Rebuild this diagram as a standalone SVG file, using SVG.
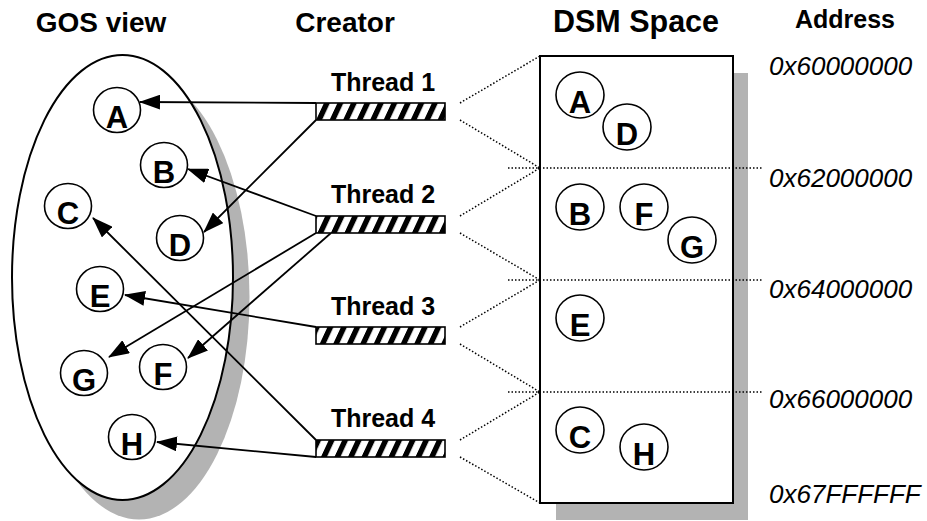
<svg xmlns="http://www.w3.org/2000/svg" width="927" height="521" viewBox="0 0 927 521">
<defs>
<style>
text{font-family:"Liberation Sans",Arial,sans-serif;fill:#000}
.title{font-size:28px;font-weight:bold;text-anchor:middle}
.thr{font-size:25px;font-weight:bold;text-anchor:middle}
.addr{font-size:26px;font-style:italic}
.lt{font-size:31px;font-weight:bold;text-anchor:middle}
.c{fill:#fff;stroke:#000;stroke-width:1.6}
.shadow{fill:#b3b3b3;stroke:none}
.arrow{stroke:#000;stroke-width:1.8;fill:none;marker-end:url(#ah)}
.dot{stroke:#000;stroke-width:1.5;stroke-dasharray:1.5 2;fill:none}
.bar{fill:url(#hatch);stroke:#000;stroke-width:1.6}
</style>
<marker id="ah" markerUnits="userSpaceOnUse" markerWidth="21" markerHeight="15" refX="20" refY="7.5" orient="auto">
<path d="M0,0 L21,7.5 L0,15 z" fill="#000"/>
</marker>
<pattern id="hatch" patternUnits="userSpaceOnUse" x="318" y="0" width="13.5" height="20" patternTransform="skewX(-25)">
<rect width="13.5" height="20" fill="#fff"/>
<rect x="0" y="0" width="6" height="20" fill="#000"/>
</pattern>
</defs>
<rect width="927" height="521" fill="#fff"/>

<text class="title" x="101" y="32">GOS view</text>
<text class="title" x="345" y="32">Creator</text>
<text class="title" x="636" y="32" style="font-size:30.5px">DSM Space</text>
<text x="845" y="28" style="font-size:25px;font-weight:bold;text-anchor:middle">Address</text>

<g id="gos-view">
<ellipse class="shadow" cx="139" cy="297" rx="110.5" ry="222.5"/>
<ellipse cx="122.5" cy="277.5" rx="110.5" ry="222.5" fill="#fff" stroke="#000" stroke-width="2"/>
</g>

<g id="dsm-space">
<rect class="shadow" x="556" y="73" width="192" height="447"/>
<rect x="540" y="56" width="193" height="447" fill="#fff" stroke="#000" stroke-width="2"/>
</g>

<g id="connectors">
<line class="dot" x1="508" y1="168" x2="763" y2="168"/>
<line class="dot" x1="508" y1="280" x2="763" y2="280"/>
<line class="dot" x1="508" y1="392" x2="763" y2="392"/>
<line class="dot" x1="460" y1="103" x2="540" y2="56"/>
<line class="dot" x1="460" y1="120" x2="540" y2="168"/>
<line class="dot" x1="460" y1="216" x2="540" y2="168"/>
<line class="dot" x1="460" y1="233" x2="540" y2="280"/>
<line class="dot" x1="460" y1="327" x2="540" y2="280"/>
<line class="dot" x1="460" y1="344" x2="540" y2="392"/>
<line class="dot" x1="460" y1="440" x2="540" y2="392"/>
<line class="dot" x1="460" y1="457" x2="540" y2="503"/>
<line class="arrow" x1="316" y1="103" x2="140" y2="102"/>
<line class="arrow" x1="316" y1="120" x2="204" y2="232"/>
<line class="arrow" x1="316" y1="216" x2="188" y2="169"/>
<line class="arrow" x1="316" y1="233" x2="109" y2="357"/>
<line class="arrow" x1="331" y1="233" x2="188" y2="358"/>
<line class="arrow" x1="316" y1="327" x2="125" y2="295"/>
<line class="arrow" x1="316" y1="440" x2="93" y2="218"/>
<line class="arrow" x1="316" y1="457" x2="157" y2="442"/>
</g>

<g id="thread1"><text class="thr" x="383" y="91">Thread 1</text><rect class="bar" x="316" y="103" width="129" height="17"/></g>
<g id="thread2"><text class="thr" x="383" y="203">Thread 2</text><rect class="bar" x="316" y="216" width="129" height="17"/></g>
<g id="thread3"><text class="thr" x="383" y="315">Thread 3</text><rect class="bar" x="316" y="327" width="129" height="17"/></g>
<g id="thread4"><text class="thr" x="383" y="427">Thread 4</text><rect class="bar" x="316" y="440" width="129" height="17"/></g>

<g id="gos-A"><ellipse class="c" cx="117" cy="110" rx="23.5" ry="22.5"/><text class="lt" x="117" y="128">A</text></g>
<g id="gos-B"><ellipse class="c" cx="164" cy="165" rx="23.5" ry="22.5"/><text class="lt" x="164" y="183">B</text></g>
<g id="gos-C"><ellipse class="c" cx="68" cy="206" rx="23.5" ry="22.5"/><text class="lt" x="68" y="224">C</text></g>
<g id="gos-D"><ellipse class="c" cx="180" cy="238" rx="23.5" ry="22.5"/><text class="lt" x="180" y="256">D</text></g>
<g id="gos-E"><ellipse class="c" cx="100" cy="289" rx="23.5" ry="22.5"/><text class="lt" x="100" y="307">E</text></g>
<g id="gos-G"><ellipse class="c" cx="84" cy="373" rx="23.5" ry="22.5"/><text class="lt" x="84" y="391">G</text></g>
<g id="gos-F"><ellipse class="c" cx="163" cy="367" rx="23.5" ry="22.5"/><text class="lt" x="163" y="385">F</text></g>
<g id="gos-H"><ellipse class="c" cx="132" cy="437" rx="23.5" ry="22.5"/><text class="lt" x="132" y="455">H</text></g>

<g id="dsm-A"><ellipse class="c" cx="580" cy="95" rx="24" ry="23"/><text class="lt" x="580" y="113">A</text></g>
<g id="dsm-D"><ellipse class="c" cx="627" cy="127" rx="24" ry="23"/><text class="lt" x="627" y="145">D</text></g>
<g id="dsm-B"><ellipse class="c" cx="580" cy="207" rx="24" ry="23"/><text class="lt" x="580" y="225">B</text></g>
<g id="dsm-F"><ellipse class="c" cx="644" cy="207" rx="24" ry="23"/><text class="lt" x="644" y="225">F</text></g>
<g id="dsm-G"><ellipse class="c" cx="692" cy="240" rx="24" ry="23"/><text class="lt" x="692" y="258">G</text></g>
<g id="dsm-E"><ellipse class="c" cx="580" cy="318" rx="24" ry="23"/><text class="lt" x="580" y="336">E</text></g>
<g id="dsm-C"><ellipse class="c" cx="580" cy="430" rx="24" ry="23"/><text class="lt" x="580" y="448">C</text></g>
<g id="dsm-H"><ellipse class="c" cx="644" cy="447" rx="24" ry="23"/><text class="lt" x="644" y="465">H</text></g>

<g id="addresses">
<text class="addr" x="769" y="75">0x60000000</text>
<text class="addr" x="769" y="187">0x62000000</text>
<text class="addr" x="769" y="298">0x64000000</text>
<text class="addr" x="769" y="408">0x66000000</text>
<text class="addr" x="769" y="503">0x67FFFFFF</text>
</g>
</svg>
